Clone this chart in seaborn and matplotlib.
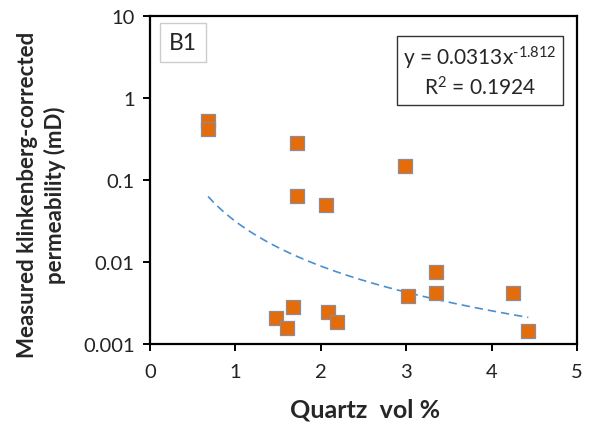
import numpy as np
import pandas as pd
import matplotlib
matplotlib.use("Agg")
import matplotlib.pyplot as plt
import seaborn as sns

# Quartz content (vol %) and measured Klinkenberg-corrected permeability (mD)
quartz = [0.68, 0.68, 1.72, 2.99, 1.72, 2.06, 3.35, 3.35, 3.02, 1.67,
          1.47, 1.60, 2.08, 2.19, 4.25, 4.43]
perm = [0.52, 0.42, 0.28, 0.149, 0.063, 0.0495, 0.0075, 0.0042, 0.0038,
        0.0028, 0.00206, 0.00155, 0.00243, 0.00184, 0.00415, 0.00143]

# Power-law fit y = a * x^b
fit_a = 0.0313
fit_b = -1.812
fit_r2 = 0.1924

x_ticks = [0, 1, 2, 3, 4, 5]
y_ticks = [0.001, 0.01, 0.1, 1, 10]
y_ticklabels = ["0.001", "0.01", "0.1", "1", "10"]

sns.set_theme(style="white")
plt.rcParams["font.family"] = ["Lato", "DejaVu Sans"]
plt.rcParams["mathtext.default"] = "regular"

df = pd.DataFrame({"quartz": quartz, "perm": perm})
xs = np.linspace(min(quartz), max(quartz), 200)
fit_df = pd.DataFrame({"x": xs, "y": fit_a * xs ** fit_b})

fig = plt.figure(figsize=(5.89, 4.35), dpi=100)
ax = fig.add_axes([0.2547, 0.2069, 0.7249, 0.7541])

sns.lineplot(data=fit_df, x="x", y="y", ax=ax, color="#4a8fd0",
             linestyle=(0, (5, 3)), linewidth=1.2)
sns.scatterplot(data=df, x="quartz", y="perm", ax=ax, marker="s", s=110,
                color="#e46c0a", edgecolor="#8c8c9c", linewidth=0.9, zorder=3)

ax.set_yscale("log")
ax.set_xlim(0, 5)
ax.set_ylim(0.001, 10)
ax.set_xticks(x_ticks)
ax.set_xticklabels([str(t) for t in x_ticks])
ax.set_yticks(y_ticks)
ax.set_yticklabels(y_ticklabels)
ax.minorticks_off()

for sp in ax.spines.values():
    sp.set_visible(True)
    sp.set_color("black")
    sp.set_linewidth(1.6)

ax.tick_params(axis="both", direction="out", length=5, width=1.4,
               colors="black", labelsize=14.5, bottom=True, left=True)
ax.tick_params(axis="x", pad=9)
ax.tick_params(axis="y", pad=6)
for lab in ax.get_xticklabels() + ax.get_yticklabels():
    lab.set_color("#222222")

ax.set_xlabel("Quartz  vol %", fontsize=18, fontweight="bold")
ax.xaxis.set_label_coords(0.503, -0.162)
ax.set_ylabel("Measured klinkenberg-corrected\npermeability (mD)", fontsize=16,
              fontweight="bold", linespacing=1.35)
ax.yaxis.set_label_coords(-0.197, 0.457)

# Panel tag
ax.text(0.077, 0.92, "B1", transform=ax.transAxes, fontsize=16.5,
        ha="center", va="center",
        bbox=dict(boxstyle="square,pad=0.4", facecolor="white",
                  edgecolor="#cccccc", linewidth=1))

# Fit equation
ax.text(0.772, 0.831,
        "y = 0.0313x$^{\u2010" + f"{abs(fit_b):.3f}" + "}$\n"
        + f"R$^2$ = {fit_r2:.4f}",
        transform=ax.transAxes, fontsize=15, ha="center", va="center",
        linespacing=1.2,
        bbox=dict(boxstyle="square,pad=0.3", facecolor="white",
                  edgecolor="#333333", linewidth=1))

fig.savefig("out.png", dpi=100)
